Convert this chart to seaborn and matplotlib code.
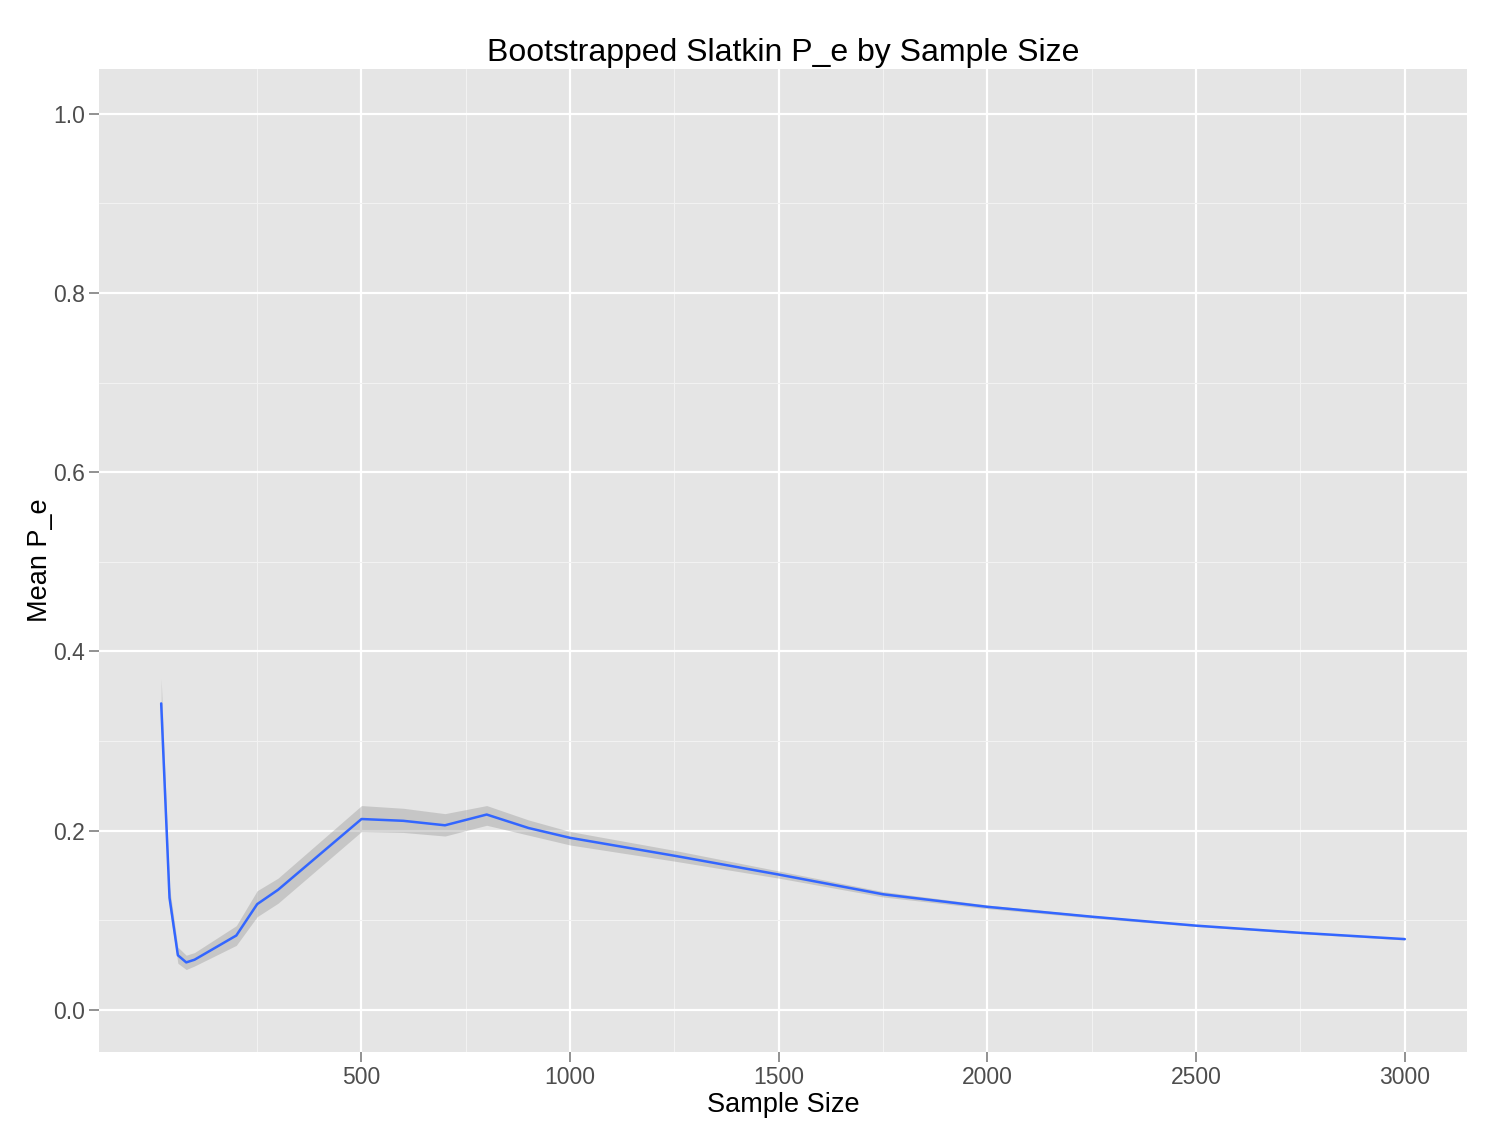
import matplotlib
matplotlib.use("Agg")
import pandas as pd
import matplotlib.pyplot as plt
import seaborn as sns
from matplotlib.ticker import MultipleLocator, FixedLocator

sample_size = [20, 40, 60, 80, 100, 200, 250, 300, 500, 600, 700, 800, 900,
               1000, 1250, 1500, 1750, 2000, 2250, 2500, 2750, 3000]
mean_pe = [0.342, 0.125, 0.061, 0.053, 0.056, 0.083, 0.118, 0.134, 0.213,
           0.211, 0.206, 0.218, 0.203, 0.192, 0.172, 0.151, 0.129, 0.115,
           0.104, 0.094, 0.086, 0.079]
ci_low = [0.315, 0.113, 0.052, 0.045, 0.049, 0.072, 0.104, 0.119, 0.199,
          0.198, 0.194, 0.206, 0.195, 0.184, 0.166, 0.147, 0.126, 0.113,
          0.1025, 0.093, 0.085, 0.078]
ci_high = [0.370, 0.137, 0.070, 0.061, 0.064, 0.094, 0.133, 0.147, 0.228,
           0.225, 0.219, 0.228, 0.212, 0.199, 0.178, 0.155, 0.132, 0.117,
           0.1055, 0.095, 0.087, 0.080]

df = pd.DataFrame({"Sample Size": sample_size, "Mean P_e": mean_pe,
                   "lo": ci_low, "hi": ci_high})

sns.set_style("white")
plt.rcParams["font.family"] = ["Liberation Sans", "DejaVu Sans"]

fig = plt.figure(figsize=(15, 11.39), dpi=100)
ax = fig.add_axes([99 / 1500, 87 / 1139, 1368 / 1500, 983 / 1139])
ax.set_facecolor("#E5E5E5")

ax.fill_between(df["Sample Size"], df["lo"], df["hi"], color="#999999",
                alpha=0.4, linewidth=0, zorder=2)
sns.lineplot(data=df, x="Sample Size", y="Mean P_e", ax=ax, color="#3366FF",
             linewidth=1.8, zorder=3)

ax.set_xlim(-129, 3149)
ax.set_ylim(-0.047, 1.050)
ax.xaxis.set_major_locator(FixedLocator([500, 1000, 1500, 2000, 2500, 3000]))
ax.xaxis.set_minor_locator(FixedLocator([250, 750, 1250, 1750, 2250, 2750]))
ax.yaxis.set_major_locator(MultipleLocator(0.2))
ax.yaxis.set_minor_locator(FixedLocator([0.1, 0.3, 0.5, 0.7, 0.9]))
ax.yaxis.set_major_formatter(plt.FuncFormatter(lambda v, p: f"{v:.1f}"))

ax.grid(which="major", color="white", linewidth=1.6, zorder=1)
ax.grid(which="minor", color="#F2F2F2", linewidth=0.8, zorder=1)
ax.set_axisbelow(True)
for s in ax.spines.values():
    s.set_visible(False)

ax.tick_params(which="major", length=7, width=1.2, color="#7F7F7F",
               labelsize=16.5, labelcolor="#4D4D4D", pad=3,
               bottom=True, left=True)
ax.tick_params(which="minor", length=0)

ax.set_xlabel("Sample Size", fontsize=19.5, labelpad=2, color="black")
ax.set_ylabel("Mean P_e", fontsize=19.5, labelpad=0, color="black")
ax.set_title("Bootstrapped Slatkin P_e by Sample Size", fontsize=23, pad=6,
             color="black")

plt.savefig("out.png", dpi=100)
